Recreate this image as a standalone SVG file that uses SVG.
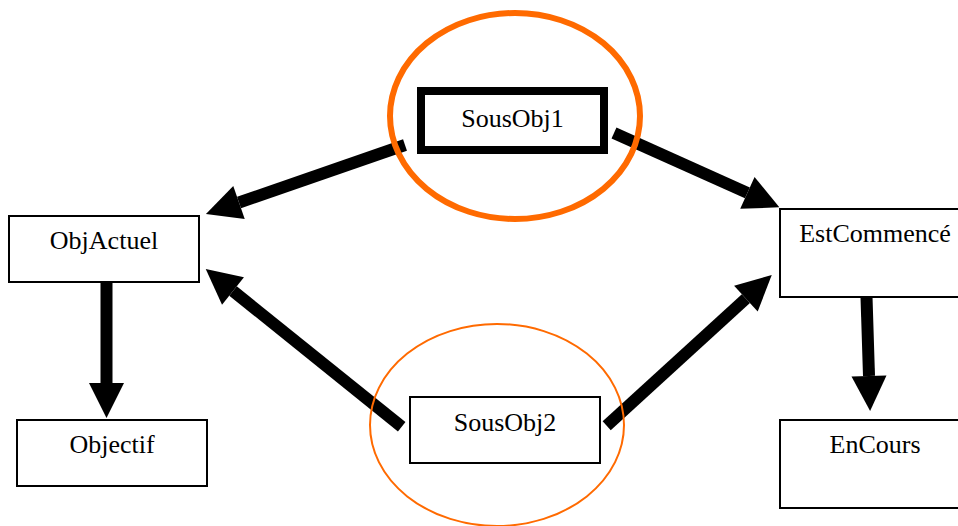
<svg xmlns="http://www.w3.org/2000/svg" width="958" height="526" viewBox="0 0 958 526">
<defs>
<style>
.box{fill:#fff;stroke:#000;stroke-width:2}
.bold{fill:#fff;stroke:#000;stroke-width:8}
.lbl{font-family:"Liberation Serif","Times New Roman",serif;font-size:26px;fill:#000;text-anchor:middle}
.edge{stroke:#000;stroke-width:12;fill:none;marker-end:url(#head)}
.hl{fill:none;stroke:#ff6a00}
</style>
<marker id="head" markerUnits="userSpaceOnUse" markerWidth="36" markerHeight="36" refX="0" refY="17.5" orient="auto" overflow="visible">
<path d="M0,0 L35,17.5 L0,35 Z" fill="#000"/>
</marker>
</defs>
<rect width="958" height="526" fill="#fff"/>
<g id="edges">
<line class="edge" x1="405" y1="145" x2="239" y2="202.5"/>
<line class="edge" x1="401.7" y1="426.7" x2="233" y2="291"/>
<line class="edge" x1="614" y1="133" x2="747.4" y2="192.9"/>
<line class="edge" x1="606.7" y1="425.7" x2="745.9" y2="298.6"/>
<line class="edge" x1="106.5" y1="282" x2="106.5" y2="383"/>
<line class="edge" x1="866.5" y1="297" x2="869" y2="376"/>
</g>
<g id="SousObj1">
<rect class="bold" x="421" y="91" width="183" height="59"/>
<text class="lbl" x="512.5" y="127">SousObj1</text>
<ellipse class="hl" cx="515" cy="116" rx="125" ry="103" stroke-width="6"/>
</g>
<g id="SousObj2">
<rect class="box" x="410" y="397" width="190" height="66"/>
<text class="lbl" x="505" y="431">SousObj2</text>
<ellipse class="hl" cx="497" cy="425" rx="127" ry="101" stroke-width="2"/>
</g>
<g id="ObjActuel">
<rect class="box" x="9" y="216" width="190" height="66"/>
<text class="lbl" x="104" y="249">ObjActuel</text>
</g>
<g id="Objectif">
<rect class="box" x="17" y="420" width="190" height="66"/>
<text class="lbl" x="112" y="453">Objectif</text>
</g>
<g id="EstCommence">
<rect class="box" x="780" y="209" width="190" height="88"/>
<text class="lbl" x="875" y="242">EstCommencé</text>
</g>
<g id="EnCours">
<rect class="box" x="780" y="420" width="190" height="88"/>
<text class="lbl" x="875" y="453">EnCours</text>
</g>
</svg>
